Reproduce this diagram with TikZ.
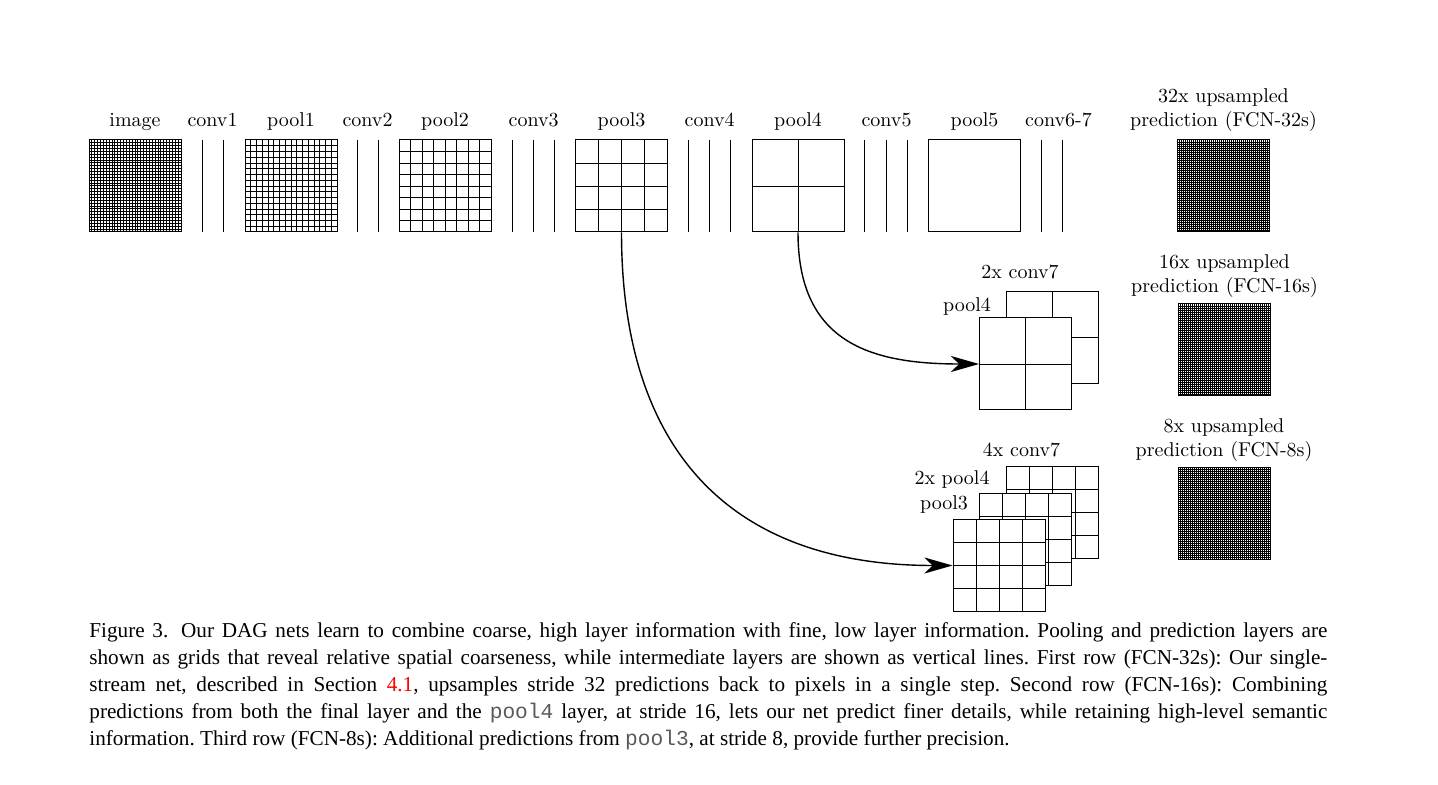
\documentclass[tikz,border=0pt]{standalone}
\usepackage{fontspec}
\usetikzlibrary{calc,arrows.meta}
\newfontfamily\capfont{Liberation Serif}
\newfontfamily\captt{Liberation Mono}
\setlength\parindent{0pt}
\tikzset{
  gridline/.style={line width=0.4pt},
  fmap/.style={draw, line width=0.5pt, fill=white, minimum size=46pt, inner sep=0pt,
    path picture={
      \foreach \k in {1,...,#1}{
        \draw[gridline] ($(path picture bounding box.north west)!\k/#1!(path picture bounding box.north east)$)
          -- ($(path picture bounding box.south west)!\k/#1!(path picture bounding box.south east)$);
        \draw[gridline] ($(path picture bounding box.north west)!\k/#1!(path picture bounding box.south west)$)
          -- ($(path picture bounding box.north east)!\k/#1!(path picture bounding box.south east)$);
      }}},
  pred/.style={fmap=46, gridline/.style={line width=0.3pt}},
  lbl/.style={anchor=base, inner sep=0pt},
  convline/.style={line width=0.5pt},
  skip/.style={line width=0.7pt, -{Stealth[length=14pt, width=8pt, inset=4pt]}}
}
\begin{document}
\begin{tikzpicture}[x=0.5pt, y=-0.5pt]
\useasboundingbox[fill=white] (0,0) rectangle (1438,785);
% first row
\node[fmap=32, gridline/.style={line width=0.5pt}] (image) at (135,186) {};
\node[fmap=16] (pool1) at (291,186) {};
\node[fmap=8] (pool2) at (445,186) {};
\node[fmap=4] (pool3) at (621.5,186) {};
\node[fmap=2] (pool4) at (798,186) {};
\node[fmap=1] (pool5) at (974.5,186) {};
\node[pred] (pred32) at (1223.5,186) {};
\foreach \x in {202,223,357,378,512.6,533.7,554.7,688.7,709.7,730.8,864.7,886.5,907.6,1041.5,1062.6}
  \draw[convline] (\x,140) -- (\x,232);
\node[lbl] (l-image) at (135,127) {image};
\node[lbl] (l-conv1) at (212.5,127) {conv1};
\node[lbl] (l-pool1) at (291,127) {pool1};
\node[lbl] (l-conv2) at (367.5,127) {conv2};
\node[lbl] (l-pool2) at (445,127) {pool2};
\node[lbl] (l-conv3) at (533.7,127) {conv3};
\node[lbl] (l-pool3) at (621.5,127) {pool3};
\node[lbl] (l-conv4) at (709.7,127) {conv4};
\node[lbl] (l-pool4) at (798,127) {pool4};
\node[lbl] (l-conv5) at (886.5,127) {conv5};
\node[lbl] (l-pool5) at (974.5,127) {pool5};
\node[lbl] (l-conv67) at (1058.5,127) {conv6-7};
\node[anchor=south, inner sep=0pt, align=center] (l-pred32) at (1223.5,132) {32x upsampled\\prediction (FCN-32s)};
% second row
\node[fmap=2] (r2conv7) at (1052,337.5) {};
\node[fmap=2] (r2pool4) at (1025.5,364) {};
\node[pred] (pred16) at (1224.5,350) {};
\node[lbl] (l-r2conv7) at (1020,279) {2x conv7};
\node[lbl] (l-r2pool4) at (967,312) {pool4};
\node[anchor=south, inner sep=0pt, align=center] (l-pred16) at (1224.5,298) {16x upsampled\\prediction (FCN-16s)};
% third row
\node[fmap=4] (r3conv7) at (1052,512.5) {};
\node[fmap=4] (r3pool4) at (1025.5,539) {};
\node[fmap=4] (r3pool3) at (999,565.5) {};
\node[pred] (pred8) at (1224,513.5) {};
\node[lbl] (l-r3conv7) at (1021.5,457) {4x conv7};
\node[lbl] (l-r3pool4) at (952,484) {2x pool4};
\node[lbl] (l-r3pool3) at (944,509) {pool3};
\node[anchor=south, inner sep=0pt, align=center] (l-pred8) at (1224,462) {8x upsampled\\prediction (FCN-8s)};
% skip connections
\draw[skip] (pool4.south) to[out=-90, in=180, looseness=1.25] (r2pool4.west);
\draw[skip] (pool3.south) to[out=-90, in=180, looseness=1.2] (r3pool3.west);
% caption
\node[anchor=north west, inner sep=0pt, text width=619pt, align=justify,
  font=\capfont\fontsize{10.6}{13.5}\selectfont] (caption) at (89,622) {\hyphenpenalty=10000\frenchspacing
Figure 3.\hspace{0.6em}Our DAG nets learn to combine coarse, high layer information with fine, low layer information. Pooling and prediction layers are\linebreak
shown as grids that reveal relative spatial coarseness, while intermediate layers are shown as vertical lines. First row (FCN-32s): Our single-\linebreak
stream net, described in Section {\color{red}4.1}, upsamples stride 32 predictions back to pixels in a single step. Second row (FCN-16s): Combining\linebreak
predictions from both the final layer and the {\captt\color{black!65}pool4} layer, at stride 16, lets our net predict finer details, while retaining high-level semantic\linebreak
information. Third row (FCN-8s): Additional predictions from {\captt\color{black!65}pool3}, at stride 8, provide further precision.};
\end{tikzpicture}
\end{document}
